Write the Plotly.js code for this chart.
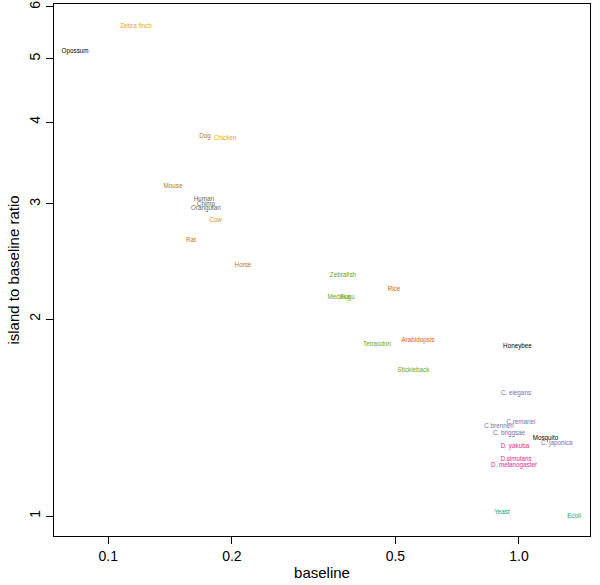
<!DOCTYPE html>
<html>
<head>
<meta charset="utf-8">
<script src="https://cdn.plot.ly/plotly-3.0.1.min.js"></script>
<style>html,body{margin:0;padding:0;background:#fff;}#chart{width:600px;height:585px;}</style>
</head>
<body>
<div id="chart"></div>
<script>
var species = ["Zebra finch","Opossum","Dog","Chicken","Mouse","Human","Chimp","Orangutan","Cow","Rat","Horse",
  "Zebrafish","Rice","Medaka","Fugu","Tetraodon","Arabidopsis","Stickleback","Honeybee","C. elegans","C.remanei",
  "C.brenneri","C. briggsae","Mosquito","C. japonica","D. yakuba","D.simulans","D. melanogaster","Yeast","Ecoli"];
var baseline = [0.1168,0.0830,0.1720,0.1924,0.1437,0.1710,0.1729,0.1729,0.1824,0.1590,0.2128,
  0.3727,0.4961,0.3639,0.3824,0.4511,0.5677,0.5535,0.9915,0.9833,1.0113,
  0.8940,0.9455,1.160,1.236,0.9779,0.9833,0.9724,0.9090,1.361];
var ratio = [5.597,5.126,3.809,3.775,3.193,3.051,2.995,2.956,2.827,2.642,2.412,
  2.328,2.223,2.156,2.156,1.830,1.856,1.669,1.817,1.541,1.392,
  1.373,1.339,1.315,1.289,1.278,1.221,1.195,1.013,0.998];
var group = ["bird","marsupial","mammal","bird","mammal","primate","primate","primate","mammal2","mammal","mammal",
  "fish","plant","fish","fish","fish","plant","fish","insect","worm","worm",
  "worm","worm","insect","worm","fly","fly","fly","microbe","microbe"];
var groupColors = {bird:"#E6AB02", marsupial:"#000000", mammal:"#B07A22", mammal2:"#C99A1A", primate:"#666666",
  fish:"#66A61E", plant:"#D95F02", insect:"#000000", worm:"#7570B3", fly:"#E7298A", microbe:"#1B9E77"};
var xTicks = [0.1,0.2,0.5,1.0];
var xTickText = ["0.1","0.2","0.5","1.0"];
var yTicks = [1,2,3,4,5,6];

var trace = {
  type: "scatter", mode: "text",
  x: baseline, y: ratio, text: species,
  textposition: "middle center",
  textfont: {family: "Liberation Sans, Arial, sans-serif", size: 6.3, color: group.map(function(g){return groupColors[g];})},
  hoverinfo: "text", cliponaxis: false, showlegend: false
};
var axisCommon = {
  showgrid: false, zeroline: false, showline: true, mirror: true, linecolor: "#000", linewidth: 1,
  ticks: "outside", ticklen: 7, tickcolor: "#000", tickwidth: 1,
  tickfont: {family: "Liberation Sans, Arial, sans-serif", size: 14, color: "#000"}
};
var layout = {
  width: 600, height: 585,
  margin: {l: 54, r: 10, t: 4, b: 49},
  paper_bgcolor: "#fff", plot_bgcolor: "#fff",
  font: {family: "Liberation Sans, Arial, sans-serif", color: "#000"},
  xaxis: Object.assign({}, axisCommon, {
    type: "log", range: [-1.1322, 0.1729], tickmode: "array", tickvals: xTicks, ticktext: xTickText,
    title: {text: "baseline", font: {size: 15}, standoff: 4}
  }),
  yaxis: Object.assign({}, axisCommon, {
    type: "log", range: [-0.0305, 0.7825], tickmode: "array", tickvals: yTicks, ticktext: yTicks.map(String),
    tickangle: -90,
    title: {text: "island to baseline ratio", font: {size: 15}, standoff: 4}
  })
};
Plotly.newPlot("chart", [trace], layout, {displayModeBar: false, staticPlot: true});
</script>
</body>
</html>
